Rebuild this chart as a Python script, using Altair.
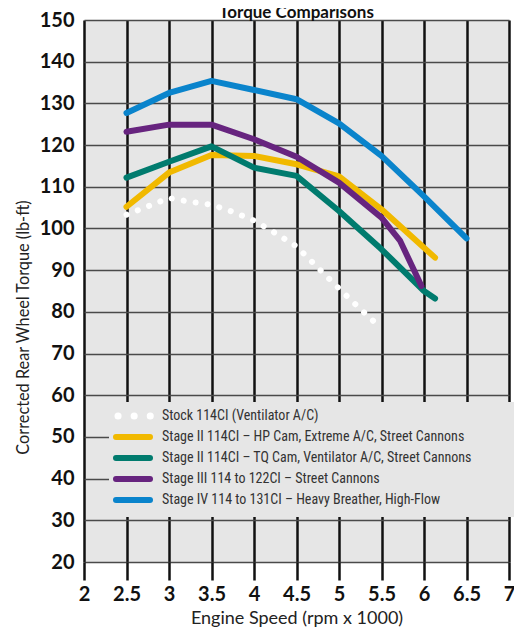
import altair as alt
import pandas as pd

series_names = [
    "Stock 114CI (Ventilator A/C)",
    "Stage II 114CI – HP Cam, Extreme A/C, Street Cannons",
    "Stage II 114CI – TQ Cam, Ventilator A/C, Street Cannons",
    "Stage III 114 to 122CI – Street Cannons",
    "Stage IV 114 to 131CI – Heavy Breather, High-Flow",
]
series_colors = ["#ffffff", "#f1b900", "#007b6e", "#67247f", "#0a84cc"]

stock_x = [2.5, 2.75, 3.0, 3.25, 3.5, 3.75, 4.0, 4.25, 4.5, 4.75, 5.0, 5.25, 5.5]
stock_y = [103.3, 105.3, 107.3, 106.4, 105.7, 104.0, 101.9, 98.9, 95.7, 90.6, 85.6, 80.7, 76.0]

yellow_x = [2.5, 3.0, 3.5, 4.0, 4.5, 5.0, 5.5, 6.13]
yellow_y = [105.2, 113.4, 117.6, 117.4, 115.4, 112.5, 104.6, 93.0]

green_x = [2.5, 3.0, 3.5, 4.0, 4.5, 5.0, 5.5, 6.0, 6.13]
green_y = [112.2, 116.0, 119.7, 114.6, 112.6, 104.2, 95.0, 85.0, 83.2]

purple_x = [2.5, 3.0, 3.5, 4.0, 4.5, 5.0, 5.5, 5.72, 5.97]
purple_y = [123.2, 124.9, 124.9, 121.4, 117.2, 111.0, 102.6, 97.0, 86.2]

blue_x = [2.5, 3.0, 3.5, 4.0, 4.5, 5.0, 5.5, 6.0, 6.5]
blue_y = [127.7, 132.5, 135.4, 133.2, 131.0, 125.2, 117.4, 107.7, 97.6]

x_ticks = [2, 2.5, 3, 3.5, 4, 4.5, 5, 5.5, 6, 6.5, 7]
y_ticks = [20, 30, 40, 50, 60, 70, 80, 90, 100, 110, 120, 130, 140, 150]

chart_title = "Torque Comparisons"
x_title = "Engine Speed (rpm x 1000)"
y_title = "Corrected Rear Wheel Torque (lb-ft)"

all_x = [stock_x, yellow_x, green_x, purple_x, blue_x]
all_y = [stock_y, yellow_y, green_y, purple_y, blue_y]

rows = []
for name, xs, ys in zip(series_names, all_x, all_y):
    for xv, yv in zip(xs, ys):
        rows.append({"series": name, "rpm": xv, "torque": yv})
df = pd.DataFrame(rows)

leg_df = pd.DataFrame({"series": series_names, "idx": list(range(len(series_names)))})

NARROW = "Liberation Sans Narrow, Roboto Condensed, Arial Narrow, DejaVu Sans Condensed, Roboto"

color_scale = alt.Scale(domain=series_names, range=series_colors)

x_enc = alt.X(
    "rpm:Q",
    scale=alt.Scale(domain=[2, 7], nice=False, zero=False),
    axis=alt.Axis(
        values=x_ticks, format="~g", title=x_title, grid=True,
        gridColor="#111111", gridWidth=2.5, tickSize=18, tickWidth=2.5,
        tickColor="#111111", domain=False, labelPadding=4, titlePadding=5,
        labelFlush=False, titleFontSize=18,
    ),
)
y_enc = alt.Y(
    "torque:Q",
    scale=alt.Scale(domain=[20, 150], nice=False, zero=False),
    axis=alt.Axis(
        values=y_ticks, title=y_title, grid=True, gridColor="#4a4a4a",
        gridWidth=1.5, ticks=False, domain=False, labelPadding=10,
        titlePadding=8, titleY=307, titleFontSize=16.3,
    ),
)
col_enc = alt.Color("series:N", scale=color_scale, legend=None)

layers = []
for i, name in enumerate(series_names):
    if i == 0:
        mk = alt.Chart(df).mark_line(strokeWidth=6, strokeCap="round", strokeJoin="round",
                                     strokeDash=[0.1, 12])
    else:
        mk = alt.Chart(df).mark_line(strokeWidth=6, strokeCap="round", strokeJoin="round")
    layers.append(
        mk.transform_filter(alt.datum.series == name).encode(x=x_enc, y=y_enc, color=col_enc)
    )

# legend box
one = pd.DataFrame({"a": [0]})
leg_box = alt.Chart(one).mark_rect(color="#e6e6e6").encode(
    x=alt.value(25), x2=alt.value(440), y=alt.value(382), y2=alt.value(497)
)
leg_base = alt.Chart(leg_df).transform_calculate(ly="396 + 21 * datum.idx")
leg_lines = leg_base.transform_filter("datum.idx > 0").mark_rule(
    strokeWidth=6, strokeCap="round"
).encode(
    x=alt.value(32), x2=alt.value(66),
    y=alt.Y("ly:Q", scale=None, axis=None), color=col_enc,
)
leg_dots = leg_base.transform_filter("datum.idx == 0").mark_rule(
    strokeWidth=7, strokeCap="round", strokeDash=[0.1, 16]
).encode(
    x=alt.value(34), x2=alt.value(67),
    y=alt.Y("ly:Q", scale=None, axis=None), color=col_enc,
)
leg_text = leg_base.mark_text(
    align="left", baseline="middle", font=NARROW, fontSize=14, color="#333333"
).encode(
    x=alt.value(78), y=alt.Y("ly:Q", scale=None, axis=None), text="series:N"
)
title_mark = alt.Chart(one).mark_text(
    text=chart_title, font="Lato", fontSize=17, fontWeight="bold",
    baseline="alphabetic", align="center", color="#111111"
).encode(x=alt.value(212.5), y=alt.value(-2))

chart = alt.layer(*layers, leg_box, leg_lines, leg_dots, leg_text, title_mark).properties(
    width=425, height=542,
    padding={"left": 76, "top": 12, "right": 5, "bottom": 65},
    autosize=alt.AutoSizeParams(type="none"),
).configure_view(
    fill="#e6e6e6", stroke=None
).configure_axis(
    labelFont="Lato", labelFontWeight="bold", labelFontSize=20, labelColor="#111111",
    titleFont="Lato", titleFontWeight="normal", titleColor="#222222",
)

chart.save("out.html", embed_options={"renderer": "svg", "actions": False})
